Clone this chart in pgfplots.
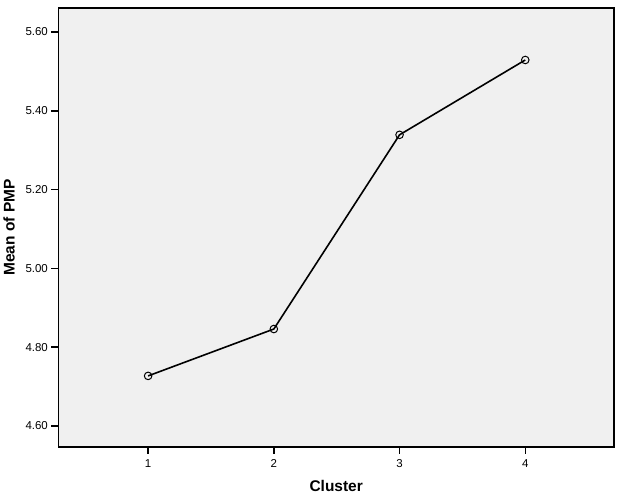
\documentclass[border=0pt]{standalone}
\usepackage{pgfplots}
\pgfplotsset{compat=1.18}
\usepackage{fontspec}
\setmainfont{Liberation Sans}
\definecolor{bgc}{HTML}{F0F0F0}
\begin{document}
\begin{tikzpicture}[x=1pt,y=1pt]
\begin{axis}[
  scale only axis,
  width=557pt, height=440pt,
  xmin=0.286, xmax=4.706,
  ymin=4.5467, ymax=5.661,
  axis background/.style={fill=bgc},
  axis line style={black, line width=1.6pt},
  xtick={1,2,3,4},
  ytick={4.6,4.8,5.0,5.2,5.4,5.6},
  yticklabel style={/pgf/number format/.cd, fixed, fixed zerofill, precision=2},
  /pgf/number format/assume math mode=true,
  tick align=outside,
  tick pos=left,
  major tick length=7pt,
  tick style={black, line width=1.5pt},
  ticklabel style={font=\fontsize{11.5}{13}\selectfont},
  xticklabel style={yshift=-2pt},
  xlabel={\textbf{Cluster}},
  ylabel={\textbf{Mean of PMP}},
  label style={font=\fontsize{15.5}{17}\selectfont},
  xlabel style={yshift=-6pt},
  ylabel style={yshift=4pt},
]
\addplot[black, line width=1.6pt, mark=o, mark size=3.8pt, mark options={line width=1pt, fill=bgc}]
coordinates {(1,4.727) (2,4.846) (3,5.339) (4,5.529)};
\end{axis}
\path (current axis.south west) ++(-57pt,-52pt) coordinate (bl);
\path (current axis.north east) ++(10pt,8pt) coordinate (tr);
\path (bl) rectangle (tr);
\end{tikzpicture}
\end{document}
